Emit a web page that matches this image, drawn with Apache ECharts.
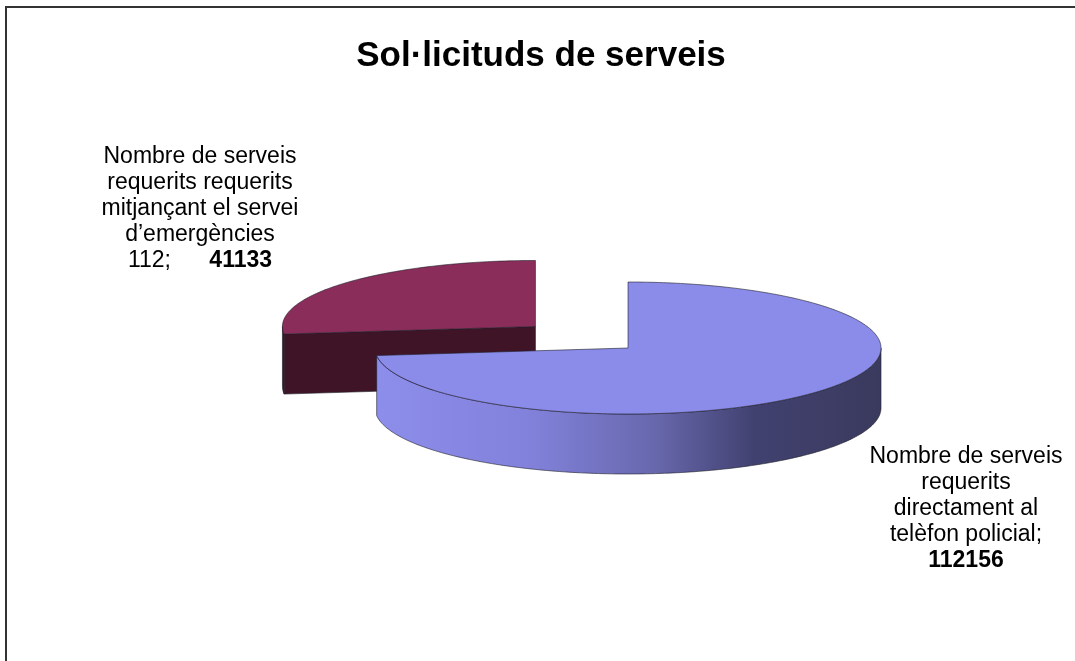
<!DOCTYPE html>
<html>
<head>
<meta charset="utf-8">
<title>Sol·licituds de serveis</title>
<script src="https://cdn.jsdelivr.net/npm/echarts@6/dist/echarts.min.js"></script>
<style>
  html, body { margin: 0; padding: 0; background: #fff; }
  #chart { width: 1075px; height: 661px; }
</style>
</head>
<body>
<div id="chart"></div>
<script>
// dades del gràfic
const categories = [
  'Nombre de serveis requerits directament al telèfon policial',
  'Nombre de serveis requerits requerits mitjançant el servei d’emergències 112'
];
const values = [112156, 41133];
// línies de les etiquetes, {v} = valor
const labelLines = [
  ['Nombre de serveis', 'requerits', 'directament al', 'telèfon policial;', '{v}'],
  ['Nombre de serveis', 'requerits requerits', 'mitjançant el servei', 'd’emergències', '112;      {v}']
];

// geometria del pastís 3D
const CX = 628, CY = 348, RX = 253, RY = 66, DEPTH = 60;
const explode = [0, 0.49];
const labelPos = [[966, 444], [200, 144]];
const FONT = '"Liberation Sans", Arial, sans-serif';

const topColors = ['#8B8BE9', '#8B2D5A'];
const sideStops = [
  [[0, '#8D8DEB'], [0.3, '#8282DC'], [0.55, '#6868AE'], [0.75, '#414170'], [1, '#3A3A5E']],
  [[0, '#3F1427'], [1, '#3F1427']]
];
const cutColors = ['#5a5aa0', '#3F1427'];

const total = values.reduce((a, b) => a + b, 0);

function ellPt(cx, cy, deg, dy) {
  const a = deg * Math.PI / 180;
  return [cx + RX * Math.sin(a), cy - RY * Math.cos(a) + (dy || 0)];
}
function arc(cx, cy, a0, a1, dy) {
  const pts = [];
  const n = Math.max(2, Math.ceil(Math.abs(a1 - a0)));
  for (let i = 0; i <= n; i++) {
    pts.push(ellPt(cx, cy, a0 + (a1 - a0) * i / n, dy));
  }
  return pts;
}

function renderItem(params, api) {
  const idx = params.dataIndex;
  let before = 0;
  for (let i = 0; i < idx; i++) before += values[i];
  const v = api.value(0);
  const start = before / total * 360;
  const end = (before + v) / total * 360;
  const mid = (start + end) / 2;
  const m = mid * Math.PI / 180;
  const cx = CX + explode[idx] * RX * Math.sin(m);
  const cy = CY - explode[idx] * RY * Math.cos(m);
  const z = 20 + Math.round(-Math.cos(m) * 10);
  const line = { stroke: 'rgba(30,30,40,0.85)', lineWidth: 0.7 };
  const children = [];

  // cares del tall
  [[start, start - 90], [end, end + 90]].forEach(([a, nrm]) => {
    if (Math.cos(nrm * Math.PI / 180) < -1e-6) {
      children.push({
        type: 'polygon', z2: z,
        shape: { points: [[cx, cy], ellPt(cx, cy, a), ellPt(cx, cy, a, DEPTH), [cx, cy + DEPTH]] },
        style: Object.assign({ fill: cutColors[idx] }, line)
      });
    }
  });

  // lateral exterior (només la part frontal)
  const lo = Math.max(start, 90), hi = Math.min(end, 270);
  if (lo < hi) {
    const pts = arc(cx, cy, lo, hi, 0).concat(arc(cx, cy, hi, lo, DEPTH));
    children.push({
      type: 'polygon', z2: z + 1,
      shape: { points: pts },
      style: Object.assign({
        fill: new echarts.graphic.LinearGradient(cx - RX, 0, cx + RX, 0,
          sideStops[idx].map(s => ({ offset: s[0], color: s[1] })), true)
      }, line)
    });
  }

  // cara superior
  children.push({
    type: 'polygon', z2: z + 2,
    shape: { points: [[cx, cy]].concat(arc(cx, cy, start, end, 0)) },
    style: Object.assign({ fill: topColors[idx] }, line)
  });

  // etiqueta
  const txt = labelLines[idx].join('\n').replace('{v}', '{b|' + v + '}');
  children.push({
    type: 'text', z2: 100,
    x: labelPos[idx][0], y: labelPos[idx][1],
    style: {
      text: txt, align: 'center', verticalAlign: 'top',
      fontSize: 23, fontFamily: FONT, fill: '#000', lineHeight: 26,
      rich: { b: { fontSize: 23, fontWeight: 'bold', fontFamily: FONT, fill: '#000', lineHeight: 26 } }
    }
  });

  return { type: 'group', children: children };
}

const chart = echarts.init(document.getElementById('chart'));
chart.setOption({
  animation: false,
  graphic: [
    {
      type: 'rect', z: -1,
      shape: { x: 6, y: 7, width: 1200, height: 800 },
      style: { fill: 'none', stroke: '#333', lineWidth: 2 }
    },
    {
      type: 'text', x: 541, y: 56,
      style: {
        text: 'Sol·licituds de serveis', align: 'center', verticalAlign: 'middle',
        fontSize: 35, fontWeight: 'bold', fontFamily: FONT, fill: '#000'
      }
    }
  ],
  series: [{
    type: 'custom',
    coordinateSystem: 'none',
    renderItem: renderItem,
    data: values.map((v, i) => ({ name: categories[i], value: v }))
  }]
});
</script>
</body>
</html>
